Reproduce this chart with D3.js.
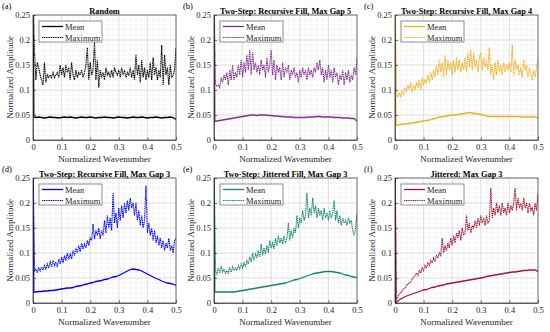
<!DOCTYPE html>
<html>
<head>
<meta charset="utf-8">
<script src="https://cdn.jsdelivr.net/npm/d3@7"></script>
<style>
  body { margin: 0; background: #fff; }
  svg { font-family: "Liberation Serif", "Times New Roman", serif; }
</style>
</head>
<body>
<div id="chart-container"></div>
<script>
// wavenumber grids (first point = DC component, clipped at top)
const kMax = d3.range(101).map(i => i * 0.005)
const kMean = [0, 0.003].concat(d3.range(1, 51).map(i => i * 0.01))

const titles = ["Random", "Two-Step: Recursive Fill, Max Gap 5", "Two-Step: Recursive Fill, Max Gap 4",
  "Two-Step: Recursive Fill, Max Gap 3", "Two-Step: Jittered Fill, Max Gap 3", "Jittered: Max Gap 3"]
const labels = ["(a)", "(b)", "(c)", "(d)", "(e)", "(f)"]
const colors = ["#000000", "#7e2f8e", "#edb120", "#0000ff", "#13856b", "#a2142f"]
const xTicks = [0, 0.1, 0.2, 0.3, 0.4, 0.5]
const yTicks = [0, 0.05, 0.1, 0.15, 0.2, 0.25]

const maxA = [0.3,
  0.18, 0.12, 0.155, 0.145, 0.13, 0.12, 0.11, 0.155, 0.115, 0.13,
  0.125, 0.13, 0.125, 0.135, 0.125, 0.13, 0.135, 0.125, 0.15, 0.13,
  0.145, 0.125, 0.15, 0.135, 0.145, 0.12, 0.155, 0.13, 0.12, 0.14,
  0.125, 0.135, 0.13, 0.14, 0.125, 0.135, 0.15, 0.185, 0.12, 0.155,
  0.13, 0.14, 0.195, 0.12, 0.16, 0.105, 0.14, 0.125, 0.135, 0.12,
  0.145, 0.13, 0.135, 0.125, 0.14, 0.125, 0.145, 0.135, 0.13, 0.14,
  0.125, 0.145, 0.13, 0.14, 0.125, 0.135, 0.13, 0.145, 0.125, 0.14,
  0.12, 0.17, 0.13, 0.15, 0.115, 0.16, 0.125, 0.145, 0.12, 0.14,
  0.125, 0.155, 0.12, 0.165, 0.13, 0.145, 0.12, 0.14, 0.125, 0.19,
  0.11, 0.17, 0.13, 0.145, 0.11, 0.15, 0.125, 0.13, 0.14, 0.185]
const maxB = [0.3,
  0.112, 0.108, 0.11, 0.105, 0.125, 0.115, 0.13, 0.12, 0.135, 0.11,
  0.14, 0.12, 0.15, 0.12, 0.135, 0.125, 0.15, 0.13, 0.16, 0.125,
  0.155, 0.135, 0.17, 0.14, 0.18, 0.13, 0.175, 0.14, 0.155, 0.135,
  0.15, 0.13, 0.16, 0.14, 0.15, 0.125, 0.165, 0.135, 0.15, 0.18,
  0.13, 0.16, 0.12, 0.15, 0.135, 0.145, 0.12, 0.155, 0.125, 0.145,
  0.135, 0.15, 0.12, 0.14, 0.13, 0.145, 0.125, 0.135, 0.115, 0.14,
  0.125, 0.145, 0.13, 0.14, 0.12, 0.145, 0.13, 0.14, 0.125, 0.145,
  0.135, 0.155, 0.14, 0.16, 0.13, 0.145, 0.115, 0.14, 0.12, 0.15,
  0.125, 0.14, 0.115, 0.145, 0.125, 0.135, 0.11, 0.13, 0.12, 0.14,
  0.11, 0.135, 0.12, 0.14, 0.115, 0.13, 0.12, 0.145, 0.13, 0.165]
const maxC = [0.3,
  0.1, 0.085, 0.095, 0.085, 0.1, 0.09, 0.105, 0.095, 0.11, 0.1,
  0.115, 0.095, 0.11, 0.1, 0.115, 0.105, 0.12, 0.1, 0.125, 0.11,
  0.12, 0.115, 0.13, 0.115, 0.135, 0.12, 0.14, 0.125, 0.15, 0.13,
  0.16, 0.135, 0.155, 0.125, 0.17, 0.13, 0.16, 0.14, 0.155, 0.13,
  0.16, 0.135, 0.165, 0.14, 0.16, 0.135, 0.155, 0.14, 0.165, 0.135,
  0.175, 0.145, 0.18, 0.14, 0.175, 0.145, 0.16, 0.135, 0.165, 0.175,
  0.14, 0.165, 0.145, 0.16, 0.14, 0.185, 0.13, 0.15, 0.12, 0.155,
  0.13, 0.16, 0.135, 0.15, 0.13, 0.155, 0.135, 0.15, 0.14, 0.155,
  0.135, 0.19, 0.13, 0.16, 0.14, 0.15, 0.13, 0.145, 0.125, 0.16,
  0.14, 0.15, 0.125, 0.145, 0.13, 0.12, 0.14, 0.125, 0.145, 0.165]
const maxD = [0.3,
  0.063, 0.068, 0.062, 0.07, 0.064, 0.072, 0.066, 0.075, 0.068, 0.078,
  0.07, 0.082, 0.072, 0.085, 0.075, 0.082, 0.072, 0.088, 0.078, 0.092,
  0.08, 0.095, 0.085, 0.1, 0.087, 0.098, 0.088, 0.105, 0.095, 0.11,
  0.1, 0.115, 0.102, 0.12, 0.108, 0.118, 0.11, 0.125, 0.115, 0.13,
  0.125, 0.158, 0.128, 0.145, 0.135, 0.15, 0.128, 0.145, 0.135, 0.165,
  0.14, 0.175, 0.15, 0.17, 0.145, 0.22, 0.16, 0.18, 0.15, 0.19,
  0.165, 0.195, 0.17, 0.2, 0.18, 0.205, 0.185, 0.21, 0.19, 0.2,
  0.175, 0.2, 0.165, 0.185, 0.155, 0.175, 0.15, 0.165, 0.235, 0.14,
  0.16, 0.135, 0.15, 0.125, 0.145, 0.12, 0.135, 0.115, 0.13, 0.11,
  0.125, 0.105, 0.12, 0.11, 0.13, 0.105, 0.115, 0.1, 0.125, 0.13]
const maxE = [0.3,
  0.065, 0.058, 0.07, 0.06, 0.072, 0.062, 0.068, 0.058, 0.065, 0.06,
  0.07, 0.062, 0.072, 0.065, 0.07, 0.066, 0.075, 0.068, 0.078, 0.07,
  0.08, 0.072, 0.085, 0.078, 0.092, 0.082, 0.1, 0.085, 0.098, 0.09,
  0.105, 0.092, 0.118, 0.095, 0.11, 0.098, 0.115, 0.1, 0.125, 0.11,
  0.12, 0.108, 0.13, 0.115, 0.135, 0.12, 0.13, 0.118, 0.135, 0.12,
  0.13, 0.16, 0.125, 0.145, 0.13, 0.15, 0.14, 0.175, 0.15, 0.17,
  0.16, 0.185, 0.165, 0.175, 0.22, 0.17, 0.19, 0.175, 0.21, 0.18,
  0.195, 0.17, 0.19, 0.175, 0.185, 0.165, 0.19, 0.17, 0.18, 0.165,
  0.185, 0.17, 0.18, 0.205, 0.165, 0.185, 0.16, 0.175, 0.155, 0.17,
  0.16, 0.165, 0.155, 0.17, 0.16, 0.165, 0.145, 0.135, 0.15, 0.18]
const maxF = [0.3,
  0.008, 0.012, 0.018, 0.02, 0.025, 0.028, 0.03, 0.035, 0.038, 0.04,
  0.042, 0.048, 0.052, 0.055, 0.06, 0.055, 0.065, 0.06, 0.07, 0.065,
  0.075, 0.07, 0.08, 0.075, 0.085, 0.08, 0.09, 0.083, 0.095, 0.09,
  0.1, 0.095, 0.13, 0.1, 0.115, 0.105, 0.12, 0.11, 0.13, 0.115,
  0.135, 0.12, 0.14, 0.13, 0.145, 0.125, 0.15, 0.135, 0.14, 0.175,
  0.145, 0.16, 0.14, 0.155, 0.15, 0.165, 0.15, 0.17, 0.155, 0.175,
  0.16, 0.17, 0.155, 0.175, 0.16, 0.165, 0.23, 0.17, 0.19, 0.175,
  0.2, 0.18, 0.195, 0.175, 0.2, 0.18, 0.19, 0.175, 0.2, 0.18,
  0.195, 0.185, 0.2, 0.23, 0.185, 0.21, 0.19, 0.2, 0.185, 0.21,
  0.19, 0.2, 0.18, 0.2, 0.185, 0.19, 0.175, 0.2, 0.185, 0.22]

const meanA = [0.3, 0.046,
  0.045, 0.046, 0.045, 0.044, 0.045, 0.046, 0.045, 0.045, 0.044, 0.045,
  0.046, 0.045, 0.046, 0.045, 0.044, 0.045, 0.046, 0.045, 0.045, 0.046,
  0.045, 0.044, 0.045, 0.045, 0.046, 0.045, 0.045, 0.044, 0.045, 0.046,
  0.045, 0.045, 0.044, 0.045, 0.046, 0.045, 0.045, 0.046, 0.045, 0.044,
  0.045, 0.045, 0.046, 0.045, 0.044, 0.045, 0.045, 0.046, 0.045, 0.041]
const meanB = [0.3, 0.037,
  0.038, 0.039, 0.04, 0.041, 0.042, 0.043, 0.044, 0.045, 0.046, 0.047,
  0.048, 0.049, 0.05, 0.05, 0.049, 0.05, 0.05, 0.05, 0.049, 0.049,
  0.048, 0.048, 0.047, 0.047, 0.046, 0.046, 0.046, 0.045, 0.045, 0.045,
  0.045, 0.045, 0.046, 0.046, 0.046, 0.047, 0.047, 0.046, 0.046, 0.046,
  0.046, 0.045, 0.045, 0.045, 0.044, 0.044, 0.044, 0.043, 0.043, 0.038]
const meanC = [0.3, 0.03,
  0.03, 0.031, 0.032, 0.032, 0.033, 0.034, 0.035, 0.036, 0.037, 0.038,
  0.039, 0.04, 0.042, 0.043, 0.045, 0.046, 0.047, 0.048, 0.049, 0.05,
  0.05, 0.051, 0.052, 0.053, 0.054, 0.055, 0.054, 0.053, 0.052, 0.051,
  0.05, 0.048, 0.047, 0.047, 0.047, 0.047, 0.047, 0.047, 0.047, 0.047,
  0.047, 0.047, 0.047, 0.046, 0.046, 0.046, 0.046, 0.046, 0.046, 0.044]
const meanD = [0.3, 0.022,
  0.022, 0.023, 0.023, 0.024, 0.024, 0.025, 0.025, 0.026, 0.027, 0.028,
  0.029, 0.03, 0.03, 0.031, 0.033, 0.034, 0.035, 0.037, 0.038, 0.04,
  0.041, 0.043, 0.044, 0.045, 0.047, 0.048, 0.05, 0.052, 0.053, 0.055,
  0.058, 0.061, 0.064, 0.067, 0.068, 0.067, 0.066, 0.064, 0.061, 0.058,
  0.055, 0.052, 0.049, 0.047, 0.044, 0.042, 0.04, 0.039, 0.038, 0.035]
const meanE = [0.3, 0.022,
  0.022, 0.022, 0.022, 0.022, 0.022, 0.022, 0.022, 0.023, 0.024, 0.025,
  0.026, 0.027, 0.028, 0.029, 0.03, 0.031, 0.032, 0.033, 0.034, 0.035,
  0.036, 0.037, 0.038, 0.039, 0.04, 0.042, 0.044, 0.046, 0.047, 0.049,
  0.051, 0.053, 0.055, 0.057, 0.059, 0.06, 0.061, 0.062, 0.063, 0.063,
  0.063, 0.062, 0.061, 0.06, 0.058, 0.056, 0.055, 0.053, 0.052, 0.05]
const meanF = [0.3, 0.001,
  0.004, 0.008, 0.011, 0.014, 0.016, 0.018, 0.02, 0.022, 0.024, 0.026,
  0.027, 0.029, 0.031, 0.032, 0.034, 0.035, 0.036, 0.038, 0.039, 0.04,
  0.041, 0.042, 0.043, 0.044, 0.045, 0.046, 0.047, 0.048, 0.049, 0.05,
  0.051, 0.053, 0.054, 0.055, 0.056, 0.057, 0.058, 0.059, 0.06, 0.061,
  0.062, 0.062, 0.063, 0.064, 0.065, 0.065, 0.066, 0.066, 0.066, 0.063]

const maxSeries = [maxA, maxB, maxC, maxD, maxE, maxF]
const meanSeries = [meanA, meanB, meanC, meanD, meanE, meanF]

const colX = [33, 214, 395]
const rowY = [15, 178]
const width = 143
const height = 125

const svg = d3.select("#chart-container")
  .append("svg")
    .attr("width", 550)
    .attr("height", 332)

const x = d3.scaleLinear().domain([0, 0.5]).range([0, width])
const y = d3.scaleLinear().domain([0, 0.25]).range([height, 0])

const line = d3.line()
  .x(d => x(d[0]))
  .y(d => y(d[1]))

titles.forEach((title, i) => {
  const col = i % 3
  const row = Math.floor(i / 3)
  const g = svg.append("g")
    .attr("transform", `translate(${colX[col]}, ${rowY[row]})`)

  // minor grid
  g.append("g").selectAll("line")
    .data(d3.range(26).map(j => j * 0.02))
    .enter().append("line")
      .attr("x1", d => x(d)).attr("x2", d => x(d))
      .attr("y1", 0).attr("y2", height)
      .attr("stroke", "#ebebeb").attr("stroke-width", 0.5)
  g.append("g").selectAll("line")
    .data(d3.range(26).map(j => j * 0.01))
    .enter().append("line")
      .attr("x1", 0).attr("x2", width)
      .attr("y1", d => y(d)).attr("y2", d => y(d))
      .attr("stroke", "#ebebeb").attr("stroke-width", 0.5)
  // major grid
  g.append("g").selectAll("line")
    .data(xTicks)
    .enter().append("line")
      .attr("x1", d => x(d)).attr("x2", d => x(d))
      .attr("y1", 0).attr("y2", height)
      .attr("stroke", "#d4d4d4").attr("stroke-width", 0.6)
  g.append("g").selectAll("line")
    .data(yTicks)
    .enter().append("line")
      .attr("x1", 0).attr("x2", width)
      .attr("y1", d => y(d)).attr("y2", d => y(d))
      .attr("stroke", "#d4d4d4").attr("stroke-width", 0.6)

  g.append("clipPath").attr("id", "clip" + i)
    .append("rect").attr("width", width).attr("height", height)

  const plot = g.append("g").attr("clip-path", `url(#clip${i})`)

  plot.append("path")
    .datum(kMax.map((k, j) => [k, maxSeries[i][j]]))
    .attr("fill", "none")
    .attr("stroke", colors[i])
    .attr("stroke-width", 1.1)
    .attr("stroke-dasharray", "1.2,0.6")
    .attr("d", line)

  plot.append("path")
    .datum(kMean.map((k, j) => [k, meanSeries[i][j]]))
    .attr("fill", "none")
    .attr("stroke", colors[i])
    .attr("stroke-width", 1.3)
    .attr("d", line)

  // axes
  const xAxis = g.append("g")
    .attr("transform", `translate(0, ${height})`)
    .call(d3.axisBottom(x).tickValues(xTicks).tickFormat(d3.format("~g"))
      .tickSizeInner(-3).tickSizeOuter(0).tickPadding(4))
  const yAxis = g.append("g")
    .call(d3.axisLeft(y).tickValues(yTicks).tickFormat(d3.format("~g"))
      .tickSizeInner(-3).tickSizeOuter(0).tickPadding(3))
  ;[xAxis, yAxis].forEach(a => {
    a.attr("font-family", null)
    a.select(".domain").attr("stroke", "#262626").attr("stroke-width", 0.6)
    a.selectAll(".tick line").attr("stroke", "#262626").attr("stroke-width", 0.6)
    a.selectAll(".tick text")
      .attr("fill", "#262626")
      .style("font-size", "8.5px")
  })
  g.append("rect")
    .attr("width", width).attr("height", height)
    .attr("fill", "none")
    .attr("stroke", "#262626").attr("stroke-width", 0.6)

  // labels
  g.append("text")
    .attr("x", width / 2).attr("y", -1.5)
    .attr("text-anchor", "middle")
    .style("font-size", "8.3px")
    .style("font-weight", "bold")
    .text(title)
  g.append("text")
    .attr("x", -31).attr("y", -6)
    .style("font-size", "8.5px")
    .text(labels[i])
  g.append("text")
    .attr("x", width / 2).attr("y", height + 22)
    .attr("text-anchor", "middle")
    .style("font-size", "9px")
    .attr("fill", "#262626")
    .text("Normalized Wavenumber")
  g.append("text")
    .attr("transform", `translate(-20, ${height / 2}) rotate(-90)`)
    .attr("text-anchor", "middle")
    .style("font-size", "9px")
    .attr("fill", "#262626")
    .text("Normalized Amplitude")

  // legend
  const legend = g.append("g").attr("transform", "translate(6, 6)")
  legend.append("rect")
    .attr("width", 63).attr("height", 21)
    .attr("fill", "#fff")
    .attr("stroke", "#262626").attr("stroke-width", 0.5)
  const keys = ["Mean", "Maximum"]
  keys.forEach((key, j) => {
    legend.append("line")
      .attr("x1", 3).attr("x2", 24)
      .attr("y1", 5.5 + j * 11).attr("y2", 5.5 + j * 11)
      .attr("stroke", colors[i])
      .attr("stroke-width", j === 0 ? 1.3 : 1.1)
      .attr("stroke-dasharray", j === 0 ? null : "1.2,0.6")
    legend.append("text")
      .attr("x", 26).attr("y", 8.5 + j * 11)
      .style("font-size", "8.5px")
      .attr("fill", "#262626")
      .text(key)
  })
})
</script>
</body>
</html>
